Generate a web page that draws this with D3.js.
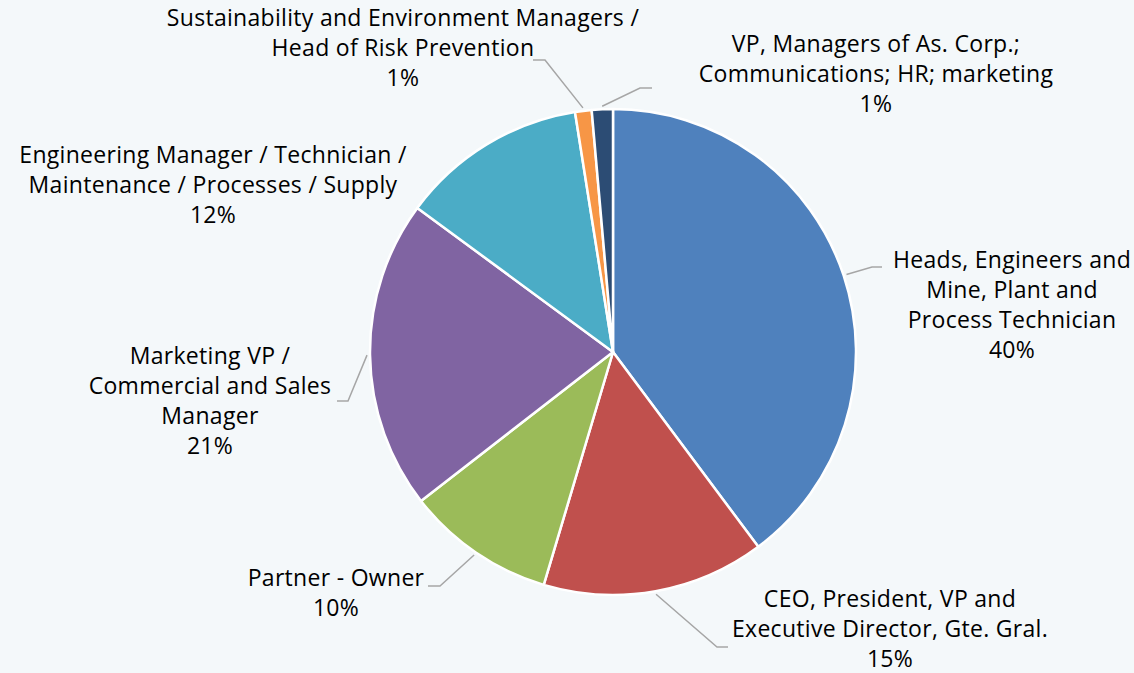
<!DOCTYPE html>
<html>
<head>
<meta charset="utf-8">
<script src="https://cdn.jsdelivr.net/npm/d3@7"></script>
<style>
body{margin:0;background:#f4f8fa;overflow:hidden;}
.lbl{font-family:"Open Sans",sans-serif;font-size:23px;letter-spacing:0.3px;fill:#000;}
</style>
</head>
<body>
<div id="chartContainer"></div>
<script>
// data, clockwise from 12 o'clock
var categories = [
    "Heads, Engineers and Mine, Plant and Process Technician",
    "CEO, President, VP and Executive Director, Gte. Gral.",
    "Partner - Owner",
    "Marketing VP / Commercial and Sales Manager",
    "Engineering Manager / Technician / Maintenance / Processes / Supply",
    "Sustainability and Environment Managers / Head of Risk Prevention",
    "VP, Managers of As. Corp.; Communications; HR; marketing"
];
var labelLines = [
    ["Heads, Engineers and", "Mine, Plant and", "Process Technician"],
    ["CEO, President, VP and", "Executive Director, Gte. Gral."],
    ["Partner - Owner"],
    ["Marketing VP /", "Commercial and Sales", "Manager"],
    ["Engineering Manager / Technician /", "Maintenance / Processes / Supply"],
    ["Sustainability and Environment Managers /", "Head of Risk Prevention"],
    ["VP, Managers of As. Corp.;", "Communications; HR; marketing"]
];
var values = [39.8, 14.8, 9.9, 20.6, 12.4, 1.1, 1.4];
var colors = ["#4f81bd", "#c0504d", "#9bbb59", "#8064a2", "#4bacc6", "#f79646", "#2c4c74"];

// layout: label centre x / first baseline, leader elbow + end
var labelPos = [[1012, 268], [890, 607], [336, 586], [210, 364], [213, 163], [403, 26], [876, 52]];
var leaders = [
    [[872, 267], [882, 267]],
    [[717, 647], [728, 647]],
    [[440, 586], [428, 586]],
    [[348, 401], [337, 401]],
    null,
    [[545, 60], [533, 60]],
    [[640, 88], [652, 88]]
];

function drawPie()
{
    const w = 1134, h = 673;
    const cx = 613, cy = 352, radius = 243;
    const lineH = 30;

    const svg = d3.select("#chartContainer")
                    .append("svg")
                    .attr("width", w)
                    .attr("height", h);

    const g = svg.append("g")
                    .attr("transform", `translate(${cx},${cy})`);

    const pie = d3.pie().sort(null).value(d => d);
    const arcs = pie(values);

    const arc = d3.arc().innerRadius(0).outerRadius(radius);
    const edgeArc = d3.arc().innerRadius(radius + 3).outerRadius(radius + 3);

    // slices
    g.selectAll("path.slice")
        .data(arcs)
        .join("path")
        .attr("class", "slice")
        .attr("d", arc)
        .attr("fill", (d, i) => colors[i])
        .attr("stroke", "#ffffff")
        .attr("stroke-width", 2.5)
        .attr("stroke-linejoin", "round");

    // leader lines
    arcs.forEach(function(d, i){
        if(!leaders[i]) return;
        var p = edgeArc.centroid(d);
        var pts = [[p[0] + cx, p[1] + cy]].concat(leaders[i]);
        svg.append("polyline")
            .attr("points", pts.map(q => q.join(",")).join(" "))
            .attr("fill", "none")
            .attr("stroke", "#a6a6a6")
            .attr("stroke-width", 1.5);
    });

    // labels
    arcs.forEach(function(d, i){
        var lines = labelLines[i].concat([Math.round(values[i]) + "%"]);
        var t = svg.append("text")
                    .attr("class", "lbl")
                    .attr("text-anchor", "middle")
                    .attr("x", labelPos[i][0])
                    .attr("y", labelPos[i][1]);
        lines.forEach(function(s, k){
            t.append("tspan")
                .attr("x", labelPos[i][0])
                .attr("dy", k == 0 ? 0 : lineH)
                .text(s);
        });
    });
}

drawPie();
</script>
</body>
</html>
